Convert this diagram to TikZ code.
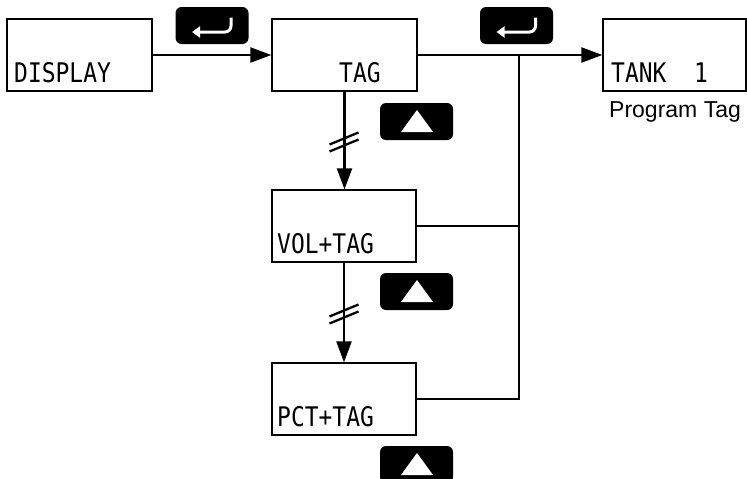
\documentclass[tikz,border=0pt]{standalone}
\usepackage{fontspec}
\setmainfont{Liberation Sans}
\newfontfamily\lcd[FakeStretch=0.85]{DejaVu Sans Mono}
\usetikzlibrary{arrows.meta,calc}
\begin{document}
\begin{tikzpicture}[x=1pt,y=-1pt,
  lcdbox/.style={draw,line width=1.3pt,minimum width=145pt,minimum height=72pt,inner sep=0pt},
  lcdtext/.style={anchor=base west,inner sep=0pt,font=\lcd\fontsize{27}{27}\selectfont},
  btn/.style={fill=black,rounded corners=6pt,minimum width=73pt,minimum height=37pt,inner sep=0pt},
  conn/.style={line width=2.3pt},
  arr/.style={conn,-{Triangle[length=21pt,width=15pt]}},
  sym/.style={white,line width=3pt},
  tri/.style={fill=white},
  caption/.style={anchor=base west,inner sep=0pt,font=\fontsize{23}{23}\selectfont}]
\useasboundingbox (0,0) rectangle (747,479);
\clip (0,0) rectangle (747,479);

% LCD boxes
\node[lcdbox] (disp) at (79.5,55) {};
\node[lcdbox] (tag)  at (344.5,55) {};
\node[lcdbox,minimum width=143pt] (tank) at (674.5,55) {};
\node[lcdbox,minimum width=144pt] (vol)  at (344,226) {};
\node[lcdbox,minimum width=144pt] (pct)  at (344,399) {};

% LCD texts
\node[lcdtext] (tdisp) at (14,82) {DISPLAY};
\node[lcdtext] (ttag)  at (339,82) {TAG};
\node[lcdtext] (ttank) at (611,82) {TANK\ \ 1};
\node[lcdtext] (tvol)  at (277,253) {VOL+TAG};
\node[lcdtext] (tpct)  at (277,426) {PCT+TAG};
\node[caption] (cap) at (609,117) {Program Tag};

% buttons
\node[btn] (ent1) at (212,25.5) {};
\node[btn] (ent2) at (516.5,25.5) {};
\node[btn] (up1) at (416.5,121.5) {};
\node[btn] (up2) at (416.5,291.5) {};
\node[btn] (up3) at (416.5,464.5) {};

% enter symbols
\draw[sym,rounded corners=6pt,-{Triangle[length=8pt,width=11pt]}]
  ([shift={(19,-8)}]ent1.center) -- ([shift={(19,6.5)}]ent1.center) -- ([shift={(-20,6.5)}]ent1.center);
\draw[sym,rounded corners=6pt,-{Triangle[length=8pt,width=11pt]}]
  ([shift={(19,-8)}]ent2.center) -- ([shift={(19,6.5)}]ent2.center) -- ([shift={(-20,6.5)}]ent2.center);

% up triangles
\foreach \b in {up1,up2,up3}{
  \fill[tri] ([shift={(0.5,-11.5)}]\b.center) -- ([shift={(16.5,10.5)}]\b.center) -- ([shift={(-15.5,10.5)}]\b.center) -- cycle;
}

% connectors
\coordinate (j) at (519,55);
\draw[arr] (disp.east) -- (tag.west);
\draw[arr] (tag.east) -- (tank.west);
\draw[conn] (pct.east) -| (j);
\draw[conn] (vol.east) -- (vol.east -| j);
\draw[arr] (tag.south) -- (tag.south |- vol.north);
\draw[arr] (vol.south) -- (pct.north);

% break marks
\coordinate (b1) at (344,142);
\coordinate (b2) at (344,314);
\foreach \b in {b1,b2}{
  \draw[conn] ([shift={(-14.5,2.5)}]\b) -- ([shift={(14.5,-9.5)}]\b);
  \draw[conn] ([shift={(-14.5,9.5)}]\b) -- ([shift={(14.5,-2.5)}]\b);
}
\end{tikzpicture}
\end{document}
